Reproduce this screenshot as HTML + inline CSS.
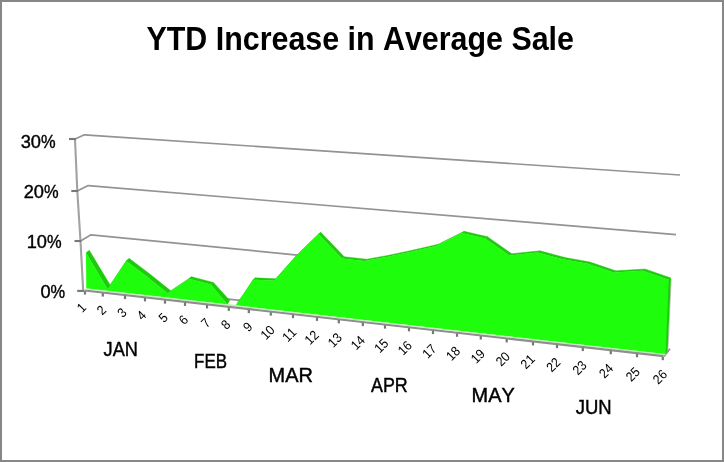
<!DOCTYPE html>
<html lang="en"><head><meta charset="utf-8"><title>YTD Increase in Average Sale</title>
<style>html,body{margin:0;padding:0;background:#fff;}body{width:724px;height:462px;overflow:hidden;}svg{display:block;}text{font-family:"Liberation Sans",sans-serif;fill:#000;font-kerning:none;}</style></head><body>
<svg width="724" height="462" viewBox="0 0 724 462">
<rect x="0" y="0" width="724" height="462" fill="#fff"/>
<rect x="1" y="1" width="722" height="460" fill="none" stroke="#878787" stroke-width="2"/>
<g id="title"><text transform="translate(146.52,49.8) scale(0.9024,1)" font-size="33.7" font-weight="bold">YTD Increase in Average Sale</text></g>
<defs><filter id="soft" x="-5%" y="-5%" width="110%" height="110%"><feGaussianBlur stdDeviation="0.45"/></filter></defs>
<g id="grid" fill="none" stroke="#939393" stroke-width="1.7" stroke-linejoin="round" filter="url(#soft)">
<polyline points="75.00,139.00 84.50,134.80 680.00,175.00"/>
<polyline points="77.30,191.00 88.20,185.60 676.00,234.60"/>
<polyline points="80.50,241.00 91.00,234.80 300.00,255.30"/>
<polyline points="224.00,298.60 242.00,300.60"/>
<line x1="664" y1="356.5" x2="670" y2="348.8"/>
</g>
<g id="yaxis" fill="none" stroke="#a2a2a2" stroke-width="2.1" filter="url(#soft)">
<polyline points="75.00,139.00 77.30,191.00 80.50,241.00 83.20,290.90"/>
<line x1="69.00" y1="139.00" x2="75.80" y2="139.00" stroke="#777"/>
<line x1="71.30" y1="191.00" x2="78.10" y2="191.00" stroke="#777"/>
<line x1="74.50" y1="241.00" x2="81.30" y2="241.00" stroke="#777"/>
<line x1="77.20" y1="290.90" x2="84.00" y2="290.90" stroke="#777"/>
</g>
<g id="area">
<polygon fill="#1ccb0b" stroke="#1ccb0b" stroke-width="0.4" points="86.00,252.80 107.50,288.90 110.90,286.20 89.30,250.20"/>
<polygon fill="#1ccb0b" stroke="#1ccb0b" stroke-width="0.4" points="107.50,288.90 126.20,260.90 129.40,258.40 110.90,286.20"/>
<polygon fill="#1ccb0b" stroke="#1ccb0b" stroke-width="0.4" points="126.20,260.90 147.00,276.80 150.20,274.30 129.40,258.40"/>
<polygon fill="#1ccb0b" stroke="#1ccb0b" stroke-width="0.4" points="147.00,276.80 167.60,293.30 170.80,290.80 150.20,274.30"/>
<polygon fill="#1ccb0b" stroke="#1ccb0b" stroke-width="0.4" points="167.60,293.30 188.90,278.80 191.70,276.70 170.80,290.80"/>
<polygon fill="#1ccb0b" stroke="#1ccb0b" stroke-width="0.4" points="188.90,278.80 210.70,284.60 213.50,282.50 191.70,276.70"/>
<polygon fill="#1ccb0b" stroke="#1ccb0b" stroke-width="0.4" points="210.70,284.60 227.40,304.20 229.80,300.60 213.50,282.50"/>
<polygon fill="#1ccb0b" stroke="#1ccb0b" stroke-width="0.4" points="236.20,305.20 253.20,279.60 255.50,277.80 238.20,301.60"/>
<polygon fill="#1ccb0b" stroke="#1ccb0b" stroke-width="0.4" points="253.20,279.60 274.20,280.60 276.50,278.80 255.50,277.80"/>
<polygon fill="#1ccb0b" stroke="#1ccb0b" stroke-width="0.4" points="274.20,280.60 296.20,255.80 298.50,254.00 276.50,278.80"/>
<polygon fill="#1ccb0b" stroke="#1ccb0b" stroke-width="0.4" points="296.20,255.80 318.50,234.10 320.80,232.30 298.50,254.00"/>
<polygon fill="#1ccb0b" stroke="#1ccb0b" stroke-width="0.4" points="318.50,234.10 341.90,258.50 344.20,256.70 320.80,232.30"/>
<polygon fill="#1ccb0b" stroke="#1ccb0b" stroke-width="0.4" points="341.90,258.50 364.40,261.00 366.70,259.20 344.20,256.70"/>
<polygon fill="#1ccb0b" stroke="#1ccb0b" stroke-width="0.4" points="364.40,261.00 387.70,256.80 390.00,255.00 366.70,259.20"/>
<polygon fill="#1ccb0b" stroke="#1ccb0b" stroke-width="0.4" points="387.70,256.80 411.00,251.80 413.30,250.00 390.00,255.00"/>
<polygon fill="#1ccb0b" stroke="#1ccb0b" stroke-width="0.4" points="411.00,251.80 436.00,246.00 438.30,244.20 413.30,250.00"/>
<polygon fill="#1ccb0b" stroke="#1ccb0b" stroke-width="0.4" points="436.00,246.00 461.90,233.10 464.20,231.30 438.30,244.20"/>
<polygon fill="#1ccb0b" stroke="#1ccb0b" stroke-width="0.4" points="461.90,233.10 485.20,238.50 487.50,236.70 464.20,231.30"/>
<polygon fill="#1ccb0b" stroke="#1ccb0b" stroke-width="0.4" points="485.20,238.50 509.40,255.50 511.70,253.70 487.50,236.70"/>
<polygon fill="#1ccb0b" stroke="#1ccb0b" stroke-width="0.4" points="509.40,255.50 537.70,252.60 540.00,250.80 511.70,253.70"/>
<polygon fill="#1ccb0b" stroke="#1ccb0b" stroke-width="0.4" points="537.70,252.60 562.70,259.30 565.00,257.50 540.00,250.80"/>
<polygon fill="#1ccb0b" stroke="#1ccb0b" stroke-width="0.4" points="562.70,259.30 587.70,263.80 590.00,262.00 565.00,257.50"/>
<polygon fill="#1ccb0b" stroke="#1ccb0b" stroke-width="0.4" points="587.70,263.80 613.50,272.60 615.80,270.80 590.00,262.00"/>
<polygon fill="#1ccb0b" stroke="#1ccb0b" stroke-width="0.4" points="613.50,272.60 642.70,270.80 645.00,269.00 615.80,270.80"/>
<polygon fill="#1ccb0b" stroke="#1ccb0b" stroke-width="0.4" points="642.70,270.80 668.70,279.80 671.00,278.00 645.00,269.00"/>
<polygon fill="#1ccb0b" points="666.70,280.80 671.00,278.00 667.60,351.82 663.60,354.20"/>
<polygon fill="#1efd0b" points="86.00,252.80 107.50,288.90 126.20,260.90 147.00,276.80 167.60,293.30 188.90,278.80 210.70,284.60 227.40,304.20 236.20,305.20 253.20,279.60 274.20,280.60 296.20,255.80 318.50,234.10 341.90,258.50 364.40,261.00 387.70,256.80 411.00,251.80 436.00,246.00 461.90,233.10 485.20,238.50 509.40,255.50 537.70,252.60 562.70,259.30 587.70,263.80 613.50,272.60 642.70,270.80 668.70,279.80 665.60,354.20 86.30,288.40"/>
<line x1="86.30" y1="288.90" x2="665.40" y2="354.67" stroke="#b9efb2" stroke-width="1.1"/>
<line x1="671.20" y1="279.00" x2="667.80" y2="351.82" stroke="#8f9f8c" stroke-opacity="0.55" stroke-width="1"/>
</g>
<g id="xaxis" fill="none" stroke="#8e8e8e" stroke-width="2.2">
<line x1="84.50" y1="290.50" x2="663.50" y2="356.20" filter="url(#soft)"/>
<line x1="85.00" y1="291.16" x2="85.00" y2="294.56" stroke="#777"/>
<line x1="102.80" y1="293.18" x2="102.80" y2="296.58" stroke="#777"/>
<line x1="125.00" y1="295.70" x2="125.00" y2="299.10" stroke="#777"/>
<line x1="145.00" y1="297.97" x2="145.00" y2="301.37" stroke="#777"/>
<line x1="165.00" y1="300.24" x2="165.00" y2="303.64" stroke="#777"/>
<line x1="185.00" y1="302.51" x2="185.00" y2="305.91" stroke="#777"/>
<line x1="207.00" y1="305.01" x2="207.00" y2="308.41" stroke="#777"/>
<line x1="228.80" y1="307.49" x2="228.80" y2="310.89" stroke="#777"/>
<line x1="248.80" y1="309.76" x2="248.80" y2="313.16" stroke="#777"/>
<line x1="270.80" y1="312.26" x2="270.80" y2="315.66" stroke="#777"/>
<line x1="293.00" y1="314.78" x2="293.00" y2="318.18" stroke="#777"/>
<line x1="317.00" y1="317.50" x2="317.00" y2="320.90" stroke="#777"/>
<line x1="338.80" y1="319.98" x2="338.80" y2="323.38" stroke="#777"/>
<line x1="362.80" y1="322.71" x2="362.80" y2="326.11" stroke="#777"/>
<line x1="385.00" y1="325.23" x2="385.00" y2="328.63" stroke="#777"/>
<line x1="409.00" y1="327.95" x2="409.00" y2="331.35" stroke="#777"/>
<line x1="433.00" y1="330.68" x2="433.00" y2="334.08" stroke="#777"/>
<line x1="457.00" y1="333.40" x2="457.00" y2="336.80" stroke="#777"/>
<line x1="480.80" y1="336.11" x2="480.80" y2="339.51" stroke="#777"/>
<line x1="506.70" y1="339.05" x2="506.70" y2="342.45" stroke="#777"/>
<line x1="533.00" y1="342.04" x2="533.00" y2="345.44" stroke="#777"/>
<line x1="557.00" y1="344.76" x2="557.00" y2="348.16" stroke="#777"/>
<line x1="582.80" y1="347.69" x2="582.80" y2="351.09" stroke="#777"/>
<line x1="610.80" y1="350.87" x2="610.80" y2="354.27" stroke="#777"/>
<line x1="637.00" y1="353.85" x2="637.00" y2="357.25" stroke="#777"/>
<line x1="662.80" y1="356.78" x2="662.80" y2="360.18" stroke="#777"/>
</g>
<g id="ylabels" font-size="18.5" stroke="#000" stroke-width="0.4">
<text x="20.70" y="147.80"><tspan textLength="20.28" lengthAdjust="spacingAndGlyphs">30</tspan><tspan textLength="14.6" lengthAdjust="spacingAndGlyphs">%</tspan></text>
<text x="23.70" y="197.80"><tspan textLength="20.28" lengthAdjust="spacingAndGlyphs">20</tspan><tspan textLength="14.6" lengthAdjust="spacingAndGlyphs">%</tspan></text>
<text x="26.70" y="247.80"><tspan textLength="20.28" lengthAdjust="spacingAndGlyphs">10</tspan><tspan textLength="14.6" lengthAdjust="spacingAndGlyphs">%</tspan></text>
<text x="40.45" y="297.80"><tspan textLength="10.14" lengthAdjust="spacingAndGlyphs">0</tspan><tspan textLength="14.6" lengthAdjust="spacingAndGlyphs">%</tspan></text>
</g>
<g id="ticklabels" font-size="13.3">
<text transform="translate(87.00,308.53) rotate(-45) scale(0.92,1)" text-anchor="end">1</text>
<text transform="translate(107.04,310.90) rotate(-45) scale(0.92,1)" text-anchor="end">2</text>
<text transform="translate(127.46,313.55) rotate(-45) scale(0.92,1)" text-anchor="end">3</text>
<text transform="translate(146.99,316.23) rotate(-45) scale(0.92,1)" text-anchor="end">4</text>
<text transform="translate(168.77,318.56) rotate(-45) scale(0.92,1)" text-anchor="end">5</text>
<text transform="translate(189.06,320.68) rotate(-45) scale(0.92,1)" text-anchor="end">6</text>
<text transform="translate(211.24,323.57) rotate(-45) scale(0.92,1)" text-anchor="end">7</text>
<text transform="translate(231.43,325.36) rotate(-45) scale(0.92,1)" text-anchor="end">8</text>
<text transform="translate(253.27,327.69) rotate(-45) scale(0.92,1)" text-anchor="end">9</text>
<text transform="translate(275.65,330.87) rotate(-45) scale(0.92,1)" text-anchor="end">10</text>
<text transform="translate(297.30,333.14) rotate(-45) scale(0.92,1)" text-anchor="end">11</text>
<text transform="translate(319.73,335.93) rotate(-45) scale(0.92,1)" text-anchor="end">12</text>
<text transform="translate(342.82,338.51) rotate(-45) scale(0.92,1)" text-anchor="end">13</text>
<text transform="translate(365.84,341.25) rotate(-45) scale(0.92,1)" text-anchor="end">14</text>
<text transform="translate(389.29,344.15) rotate(-45) scale(0.92,1)" text-anchor="end">15</text>
<text transform="translate(412.92,346.46) rotate(-45) scale(0.92,1)" text-anchor="end">16</text>
<text transform="translate(437.37,349.68) rotate(-45) scale(0.92,1)" text-anchor="end">17</text>
<text transform="translate(461.01,351.94) rotate(-45) scale(0.92,1)" text-anchor="end">18</text>
<text transform="translate(485.86,354.61) rotate(-45) scale(0.92,1)" text-anchor="end">19</text>
<text transform="translate(510.92,357.44) rotate(-45) scale(0.92,1)" text-anchor="end">20</text>
<text transform="translate(535.70,360.06) rotate(-45) scale(0.92,1)" text-anchor="end">21</text>
<text transform="translate(561.32,363.22) rotate(-45) scale(0.92,1)" text-anchor="end">22</text>
<text transform="translate(587.68,366.17) rotate(-45) scale(0.92,1)" text-anchor="end">23</text>
<text transform="translate(614.03,369.29) rotate(-45) scale(0.92,1)" text-anchor="end">24</text>
<text transform="translate(640.87,372.57) rotate(-45) scale(0.92,1)" text-anchor="end">25</text>
<text transform="translate(667.97,375.27) rotate(-45) scale(0.92,1)" text-anchor="end">26</text>
</g>
<g id="months" font-size="20.5" stroke="#000" stroke-width="0.45">
<text transform="translate(103.58,356.00) scale(0.8871,1)">JAN</text>
<text transform="translate(194.05,367.60) scale(0.8270,1)">FEB</text>
<text transform="translate(268.60,381.85) scale(0.9731,1)">MAR</text>
<text transform="translate(371.00,391.85) scale(0.8727,1)">APR</text>
<text transform="translate(471.60,401.85) scale(0.9714,1)">MAY</text>
<text transform="translate(575.77,414.00) scale(0.9026,1)">JUN</text>
</g>
</svg></body></html>
